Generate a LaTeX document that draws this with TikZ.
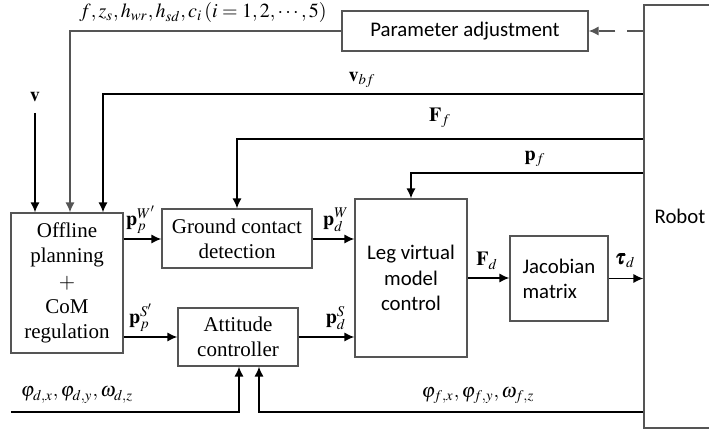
\documentclass[tikz,border=0pt]{standalone}
\usepackage{mathptmx}
\usepackage{bm}
\usepackage{fontspec}
\setmainfont{Liberation Serif}
\newfontfamily\calfont{Carlito}
\usetikzlibrary{arrows.meta}

\definecolor{boxgray}{RGB}{85,85,85}

\tikzset{
  blk/.style={draw=boxgray, line width=0.65pt, fill=white, align=center, inner sep=0pt,
              font=\fontsize{10.5}{12.6}\selectfont},
  sblk/.style={blk, font=\calfont\fontsize{10.4}{12.6}\selectfont},
  sig/.style={line width=0.75pt, -{Latex[length=5pt,width=4.6pt]}},
  lbl/.style={inner sep=0pt, font=\fontsize{10}{12}\selectfont}
}

\begin{document}
\begin{tikzpicture}[x=0.5pt, y=-0.5pt]
 \useasboundingbox (0,0) rectangle (709,432);

 %blocks
 \node[blk, minimum width=56pt, minimum height=70pt] (plan) at (67,283) {Offline\\planning\\$+$\\CoM\\regulation};
 \node[blk, minimum width=75pt, minimum height=29.5pt] (gcd) at (237,238.5) {Ground contact\\detection};
 \node[blk, minimum width=60pt, minimum height=29pt] (att) at (238,337) {Attitude\\controller};
 \node[sblk, minimum width=56pt, minimum height=79pt] (lvm) at (411,278) {Leg virtual\\model\\control};
 \node[sblk, minimum width=49pt, minimum height=42.5pt, align=left] (jac) at (559,278.5) {Jacobian\\matrix};
 \node[sblk, minimum width=123pt, minimum height=20pt] (par) at (465,31) {Parameter adjustment};
 \node[sblk, minimum width=36pt, minimum height=211.5pt] (robot) at (680,216.5) {Robot};

 %inputs from top
 \coordinate (vin) at (35,113);
 \node[lbl] (vlbl) at (35,97) {$\mathbf{v}$};
 \draw[sig] (vin) -- (vin |- plan.north);

 \coordinate (parc) at (70,31);
 \draw[sig, boxgray] (par.west) -- (parc) -- (parc |- plan.north);
 \node[lbl] (parlbl) at (203,13) {$f, z_s, h_{wr}, h_{sd}, c_i\,(i=1,2,\cdots,5)$};

 \draw[sig, boxgray, dashed, dash pattern=on 8pt off 6pt] (robot.west |- par.east) -- (par.east);

 %feedback lines
 \coordinate (vbfc) at (103,94);
 \draw[sig] (robot.west |- vbfc) -- (vbfc) -- (vbfc |- plan.north);
 \node[lbl] (vbflbl) at (362,80) {$\mathbf{v}_{bf}$};

 \coordinate (ffc) at (237,139);
 \draw[sig] (robot.west |- ffc) -- (ffc) -- (gcd.north);
 \node[lbl] (fflbl) at (440,118) {$\mathbf{F}_f$};

 \coordinate (pfc) at (411,173);
 \draw[sig] (robot.west |- pfc) -- (pfc) -- (lvm.north);
 \node[lbl] (pflbl) at (535,159) {$\mathbf{p}_f$};

 %forward path
 \coordinate (r1) at (0,239);
 \coordinate (r2) at (0,337);
 \draw[sig] (plan.east |- r1) -- (gcd.west |- r1);
 \node[lbl] (ppw) at (141,220) {$\mathbf{p}_p^{W'}$};
 \draw[sig] (gcd.east |- r1) -- (lvm.west |- r1);
 \node[lbl] (pdw) at (336,220) {$\mathbf{p}_d^{W}$};

 \draw[sig] (plan.east |- r2) -- (att.west);
 \node[lbl] (pps) at (141,318) {$\mathbf{p}_p^{S'}$};
 \draw[sig] (att.east) -- (lvm.west |- r2);
 \node[lbl] (pds) at (336,318) {$\mathbf{p}_d^{S}$};

 \draw[sig] (lvm.east) -- (jac.west |- lvm.east);
 \node[lbl] (fdlbl) at (487,261) {$\mathbf{F}_d$};
 \draw[sig] (jac.east) -- (robot.west |- jac.east);
 \node[lbl] (taulbl) at (625,261) {$\bm{\tau}_d$};

 %attitude inputs
 \coordinate (phid) at (239,412);
 \coordinate (phif) at (259,412);
 \draw[sig] (11,412) -- (phid) -- (phid |- att.south);
 \node[lbl] (phidlbl) at (77,395) {$\varphi_{d,x}, \varphi_{d,y}, \omega_{d,z}$};
 \draw[sig] (robot.west |- phif) -- (phif) -- (phif |- att.south);
 \node[lbl] (phiflbl) at (478,396) {$\varphi_{f,x}, \varphi_{f,y}, \omega_{f,z}$};

\end{tikzpicture}
\end{document}
